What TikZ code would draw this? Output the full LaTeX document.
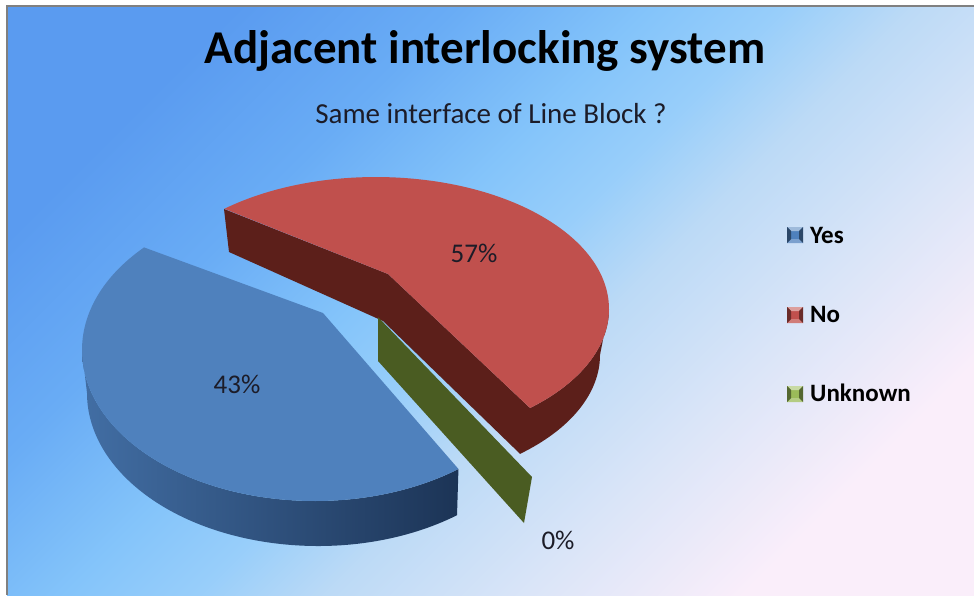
\documentclass[tikz,border=0pt]{standalone}
\usepackage{fontspec}
\setmainfont{Carlito}
\definecolor{bg0}{RGB}{90,155,240}
\definecolor{bg1}{RGB}{105,172,245}
\definecolor{bg2}{RGB}{132,196,250}
\definecolor{bg3}{RGB}{152,206,250}
\definecolor{bg4}{RGB}{188,218,246}
\definecolor{bg5}{RGB}{218,229,248}
\definecolor{bg6}{RGB}{250,238,250}
\pgfdeclareverticalshading{bgshade}{100bp}{color(0bp)=(bg6); color(25bp)=(bg6); color(35bp)=(bg5); color(44bp)=(bg4); color(50bp)=(bg3); color(56bp)=(bg2); color(65bp)=(bg1); color(75bp)=(bg0); color(100bp)=(bg0)}
\definecolor{frameC}{RGB}{128,128,128}
\definecolor{blueTop}{RGB}{79,129,189}
\definecolor{blueSideL}{RGB}{66,110,164}
\definecolor{blueSideR}{RGB}{28,52,86}
\definecolor{redTop}{RGB}{192,80,77}
\definecolor{redSide}{RGB}{92,31,26}
\definecolor{greenSide}{RGB}{74,92,34}
\definecolor{greenLeg}{RGB}{155,187,89}
\definecolor{labelC}{RGB}{28,28,40}
\newcommand\legmarkbox[3]{%
  \fill[#3] (#1,#2) rectangle ++(16,-16);
  \fill[#3!55!white] (#1,#2) -- ++(16,0) -- ++(-4,-4) -- ++(-8,0) -- cycle;
  \fill[#3!75!white] (#1,#2-16) -- ++(16,0) -- ++(-4,4) -- ++(-8,0) -- cycle;
  \fill[#3!55!black] (#1,#2) -- ++(4,-4) -- ++(0,-8) -- ++(-4,-4) -- cycle;
  \fill[#3!55!black] (#1+16,#2) -- ++(-4,-4) -- ++(0,-8) -- ++(4,-4) -- cycle;
}
\begin{document}
\begin{tikzpicture}[x=1pt,y=1pt,
  lbl/.style={font=\fontsize{27}{30}\selectfont, text=labelC, inner sep=0pt},
  leg/.style={font=\bfseries\fontsize{25}{28}\selectfont, text=black, anchor=base west, inner sep=0pt},
  ttl/.style={font=\bfseries\fontsize{47}{56}\selectfont, text=black, anchor=base, inner sep=0pt},
  subttl/.style={font=\fontsize{29}{34}\selectfont, text=labelC, anchor=base, inner sep=0pt}]
\useasboundingbox (0,0) rectangle (974,-595);
\fill[white] (0,0) rectangle (974,-595);
\shade[shading=bgshade, shading angle=45] (7,-6) rectangle (974,-595);
\draw[frameC, line width=2pt] (7,-595) -- (7,-6) -- (974,-6);

% red slice (No) - dark sides
\fill[redSide] (224,-209) -- (229,-252) -- (383,-321)
  -- ([shift={(372,-355)}]-49.5:228 and 130)
  arc[start angle=-49.5, end angle=0, x radius=228, y radius=130]
  -- ([shift={(376,-309)}]0:233 and 132)
  arc[start angle=0, end angle=-48.6, x radius=233, y radius=132]
  -- (388,-274) -- cycle;
% red top
\fill[redTop] (388,-274) -- ([shift={(376,-309)}]-48.6:233 and 132)
  arc[start angle=-48.6, end angle=130.6, x radius=233, y radius=132] -- cycle;

% green slice (Unknown, 0%)
\fill[greenSide] (378,-317) -- (532,-477) -- (524,-523) -- (378,-361) -- cycle;

% blue slice (Yes) - side wall
\shade[left color=blueSideL, right color=blueSideR]
  ([shift={(315,-350)}]180:233 and 151)
  arc[start angle=180, end angle=308, x radius=233, y radius=151]
  -- ([shift={(318,-393)}]307:231 and 153)
  arc[start angle=307, end angle=180, x radius=231, y radius=153] -- cycle;
% blue top
\fill[blueTop] (323,-313) -- ([shift={(315,-350)}]137.2:233 and 151)
  arc[start angle=137.2, end angle=308, x radius=233, y radius=151] -- cycle;

% texts
\node[ttl] (title) at (485,-63) {Adjacent interlocking system};
\node[subttl] (subtitle) at (491,-123) {Same interface of Line Block ?};
\node[lbl] (p57) at (474,-253) {57\%};
\node[lbl] (p43) at (237,-384) {43\%};
\node[lbl] (p0) at (558,-540) {0\%};

% legend
\legmarkbox{787}{-227}{blueTop}
\legmarkbox{787}{-307}{redTop}
\legmarkbox{787}{-386}{greenLeg}
\node[leg] (lyes) at (810,-243) {Yes};
\node[leg] (lno) at (810,-322) {No};
\node[leg] (lunk) at (810,-401) {Unknown};
\end{tikzpicture}
\end{document}
